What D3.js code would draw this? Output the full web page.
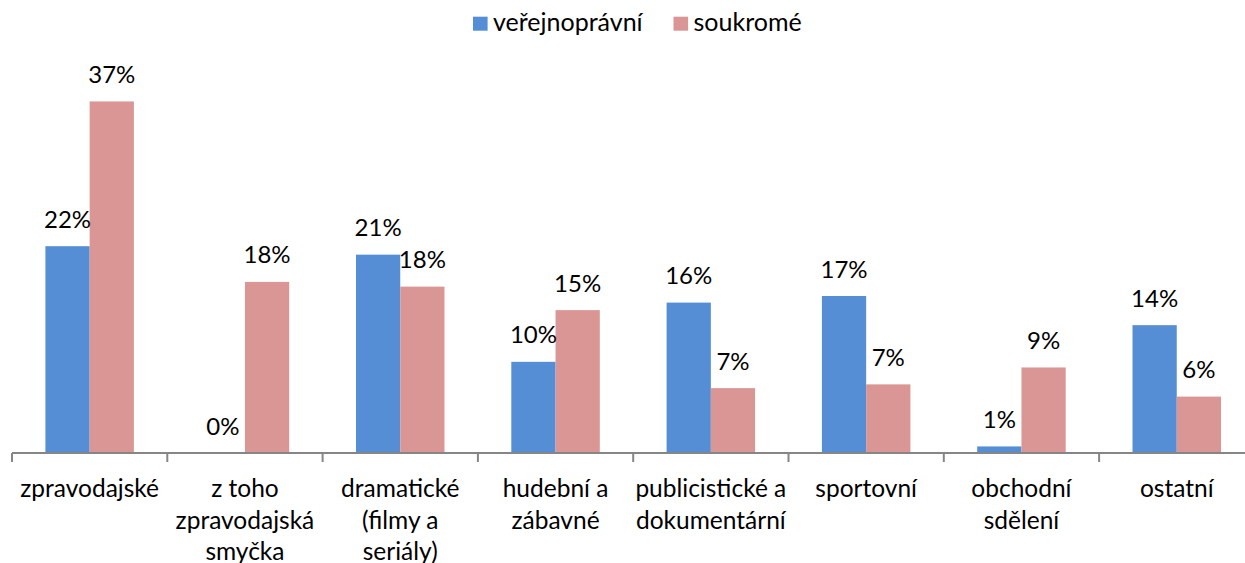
<!DOCTYPE html>
<html>
<head>
<meta charset="utf-8">
<script src="https://cdn.jsdelivr.net/npm/d3@7"></script>
<style>
  html, body { margin: 0; padding: 0; background: #fff; }
  svg { display: block; font-family: Lato, "Open Sans", sans-serif; }
</style>
</head>
<body>
<svg id="chart" width="1245" height="563"></svg>
<script>
const categories = ["zpravodajské", "z toho zpravodajská smyčka", "dramatické (filmy a seriály)", "hudební a zábavné", "publicistické a dokumentární", "sportovní", "obchodní sdělení", "ostatní"];
const seriesNames = ["veřejnoprávní", "soukromé"];
const verejnopravni = [22.0, 0.0, 21.1, 9.7, 16.0, 16.7, 0.7, 13.6];
const soukrome = [37.4, 18.2, 17.7, 15.2, 6.9, 7.3, 9.1, 6.0];
const seriesColors = ["#558ED5", "#D99694"];

const svg = d3.select("#chart");
const W = 1245, H = 563;
const baseY = 453, left = 12, bandW = 155.3;

const data = categories.map((c, i) => ({ cat: c, values: [verejnopravni[i], soukrome[i]] }));

const x0 = d3.scaleBand().domain(categories).range([left, left + bandW * categories.length]).padding(0);
const x1 = d3.scaleBand().domain(seriesNames).range([0, x0.bandwidth()]).paddingInner(0).paddingOuter(0.755);
const y = d3.scaleLinear().domain([0, 40]).range([baseY, baseY - 376]);

// bars
const g = svg.append("g");
const groups = g.selectAll("g.grp").data(data).join("g")
  .attr("transform", d => `translate(${x0(d.cat)},0)`);
groups.selectAll("rect").data(d => d.values.map((v, j) => ({ v, s: seriesNames[j], j })))
  .join("rect")
  .attr("x", d => x1(d.s))
  .attr("width", x1.bandwidth())
  .attr("y", d => y(d.v))
  .attr("height", d => baseY - y(d.v))
  .attr("fill", d => seriesColors[d.j]);

// value labels
groups.selectAll("text.val").data(d => d.values.map((v, j) => ({ v, s: seriesNames[j], j })))
  .join("text")
  .attr("class", "val")
  .attr("x", d => x1(d.s) + x1.bandwidth() / 2)
  .attr("y", d => y(d.v) - 18.5)
  .attr("text-anchor", "middle")
  .attr("font-size", 24)
  .attr("fill", "#000")
  .text(d => Math.round(d.v) + "%");

// x axis
const axis = d3.axisBottom(x0).tickSize(0).tickFormat("");
const ax = svg.append("g").attr("transform", `translate(0,${baseY})`).call(axis);
ax.select(".domain").attr("stroke", "#868686").attr("stroke-width", 2).attr("d", `M${left},0H${W + 20}`);
const boundaries = categories.map(c => x0(c)).concat([x0.range()[1]]);
ax.selectAll("line.bt").data(boundaries).join("line")
  .attr("class", "bt")
  .attr("x1", d => d).attr("x2", d => d)
  .attr("y1", 0).attr("y2", 9)
  .attr("stroke", "#868686").attr("stroke-width", 2);

// category labels with wrapping
const labG = svg.append("g");
categories.forEach(c => {
  const t = labG.append("text")
    .attr("x", x0(c) + x0.bandwidth() / 2)
    .attr("y", 497)
    .attr("text-anchor", "middle")
    .attr("font-size", 24.5)
    .attr("fill", "#000");
  const words = c.split(" ");
  let lines = [], cur = [];
  words.forEach(w => {
    const test = cur.concat([w]).join(" ");
    t.text(test);
    if (t.node().getComputedTextLength() > x0.bandwidth() - 1 && cur.length) {
      lines.push(cur.join(" "));
      cur = [w];
    } else cur.push(w);
  });
  if (cur.length) lines.push(cur.join(" "));
  t.text(null);
  lines.forEach((ln, i) => {
    t.append("tspan").attr("x", x0(c) + x0.bandwidth() / 2).attr("dy", i === 0 ? 0 : 31.6).text(ln);
  });
});

// legend
const leg = svg.append("g");
const legX = [473, 673.5];
seriesNames.forEach((s, i) => {
  leg.append("rect").attr("x", legX[i]).attr("y", 16.7).attr("width", 14.6).attr("height", 14).attr("fill", seriesColors[i]);
  leg.append("text").attr("x", legX[i] + 20).attr("y", 31).attr("font-size", 25).attr("fill", "#000").text(s);
});
</script>
</body>
</html>
